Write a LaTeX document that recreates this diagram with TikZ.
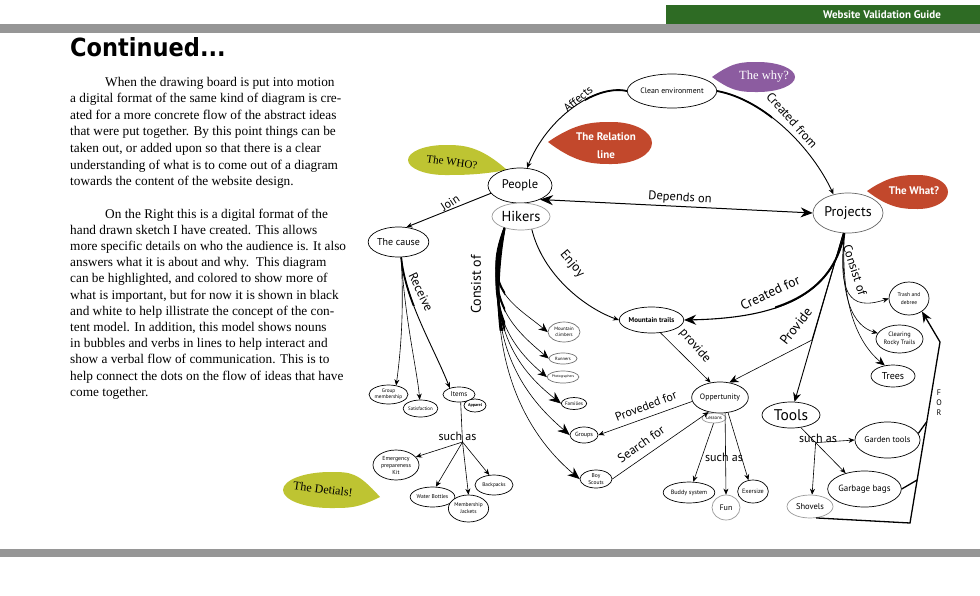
\documentclass[tikz,border=0pt]{standalone}
\usepackage{fontspec}
\setmainfont{Liberation Serif}
\newfontfamily\ptsans{PT Sans}
\newfontfamily\dvsans{DejaVu Sans}
\usetikzlibrary{arrows.meta,shapes.geometric,calc}
\definecolor{hdrgreen}{RGB}{46,107,36}
\definecolor{bargray}{RGB}{150,150,150}
\definecolor{whycol}{RGB}{140,92,160}
\definecolor{redcol}{RGB}{194,72,44}
\definecolor{olivecol}{RGB}{190,196,50}
\newcommand{\nf}[2]{\ptsans\fontsize{#1}{#2}\selectfont}
\newcommand{\tear}[7]{%
  \fill[#7] (#1,#2) .. controls ({#1+0.45*(#3-#1)},{#4-#6}) and ({#3-0.45*(#5)},{#4-#6}) .. (#3,{#4-#6})
  .. controls ({#3+0.55*(#5)},{#4-#6}) and ({#3+(#5)},{#4-0.55*#6}) .. ({#3+(#5)},#4)
  .. controls ({#3+(#5)},{#4+0.55*#6}) and ({#3+0.55*(#5)},{#4+#6}) .. (#3,{#4+#6})
  .. controls ({#3-0.45*(#5)},{#4+#6}) and ({#1+0.45*(#3-#1)},{#4+#6}) .. (#1,#2) -- cycle;}
\begin{document}
\begin{tikzpicture}[x=1pt,y=-1pt,
  ell/.style={draw, ellipse, fill=white, inner sep=0pt, line width=0.7pt, align=center},
  gell/.style={ell, draw=black!40},
  ln/.style={line width=0.9pt},
  tn/.style={line width=0.6pt},
  arr/.style={-{Stealth[length=6pt,width=5pt]}},
  marr/.style={-{Stealth[length=9pt,width=8pt]}},
  barr/.style={-{Stealth[length=12pt,width=10pt]}},
  lbl/.style={inner sep=0pt},
  body/.style={anchor=base west, inner sep=0pt, font=\fontsize{13.3}{16}\selectfont}]
\useasboundingbox (0,0) rectangle (980,595);
\fill[white] (0,0) rectangle (980,595);
% header and bars
\fill[hdrgreen] (666,5) rectangle (980,24);
\node[font=\nf{11}{12}\bfseries, text=white] (hdr) at (882,15) {Website Validation Guide};
\fill[bargray] (0,24) rectangle (980,33);
\fill[bargray] (0,549) rectangle (980,557);
% title and text
\node[anchor=base west, inner sep=0pt, font=\dvsans\bfseries\fontsize{25}{28}\selectfont, xscale=0.9] (title) at (70,56) {Continued...};
\node[body] (t1) at (105,86) {When the drawing board is put into motion};
\node[body] (t2) at (70,102.6) {a digital format of the same kind of diagram is cre-};
\node[body] (t3) at (70,119.2) {ated for a more concrete flow of the abstract ideas};
\node[body] (t4) at (70,135.8) {that were put together. By this point things can be};
\node[body] (t5) at (70,152.4) {taken out, or added upon so that there is a clear};
\node[body] (t6) at (70,169) {understanding of what is to come out of a diagram};
\node[body] (t7) at (70,185.6) {towards the content of the website design.};
\node[body] (u1) at (105,218) {On the Right this is a digital format of the};
\node[body] (u2) at (70,234.2) {hand drawn sketch I have created. This allows};
\node[body] (u3) at (70,250.4) {more specific details on who the audience is. It also};
\node[body] (u4) at (70,266.6) {answers what it is about and why.\ \ This diagram};
\node[body] (u5) at (70,282.8) {can be highlighted, and colored to show more of};
\node[body] (u6) at (70,299) {what is important, but for now it is shown in black};
\node[body] (u7) at (70,315.2) {and white to help illistrate the concept of the con-};
\node[body] (u8) at (70,331.4) {tent model. In addition, this model shows nouns};
\node[body] (u9) at (70,347.6) {in bubbles and verbs in lines to help interact and};
\node[body] (u10) at (70,363.8) {show a verbal flow of communication. This is to};
\node[body] (u11) at (70,380) {help connect the dots on the flow of ideas that have};
\node[body] (u12) at (70,396.2) {come together.};
% bubbles
\tear{712}{77}{758}{77}{37}{15}{whycol}
\node[font=\fontsize{12.5}{13}\selectfont, text=white] (twhy) at (764,77) {The why?};
\tear{548}{142}{612}{143}{40}{21}{redcol}
\node[font=\nf{11}{18}\bfseries, text=white, align=center] (trel) at (606,145.5) {The Relation\\line};
\tear{507}{170}{445}{160}{-37}{15}{olivecol}
\node[font=\fontsize{11}{12}\selectfont, rotate=-8] (twho) at (452,162) {The WHO?};
\tear{867}{191}{918}{192}{30}{17}{redcol}
\node[font=\nf{11}{12}\bfseries, text=white] (twhat) at (914,191) {The What?};
\tear{380}{497}{330}{490}{-47}{18}{olivecol}
\node[font=\fontsize{12}{13}\selectfont, rotate=-7] (tdet) at (323,489) {The Detials!};
% nodes
\node[ell, minimum width=88, minimum height=34, font=\nf{7.8}{9}] (ce) at (672,91) {Clean environment};
\node[ell, minimum width=64, minimum height=35, font=\nf{12.5}{14}] (people) at (520,185.5) {People};
\node[gell, minimum width=58, minimum height=27, font=\nf{14.5}{16}] (hikers) at (521,216.5) {Hikers};
\node[ell, draw=black!60, minimum width=70, minimum height=40, font=\nf{14}{16}] (projects) at (848,213) {Projects};
\node[ell, minimum width=57, minimum height=30, font=\nf{10}{11}] (cause) at (398.5,242) {The cause};
\node[ell, minimum width=53, minimum height=26, font=\nf{7}{8}\bfseries] (mtrails) at (651.5,320) {Mountain trails};
\node[ell, minimum width=56, minimum height=31, font=\nf{7.8}{9}] (opp) at (720,397.5) {Oppertunity};
\node[gell, minimum width=24, minimum height=10, font=\nf{4.8}{5}] (lessons) at (714,418) {Lessons};
\node[ell, minimum width=58, minimum height=26, font=\nf{15.5}{17}] (tools) at (791,415) {Tools};
\node[ell, minimum width=40, minimum height=33, font=\nf{5.5}{7.5}] (trash) at (909,298.5) {Trash and\\debree};
\node[ell, minimum width=47, minimum height=28, font=\nf{6.3}{8}] (clearing) at (899.5,339) {Clearing\\Rocky Trails};
\node[ell, minimum width=44, minimum height=22, font=\nf{10}{11}] (trees) at (893,376) {Trees};
\node[ell, minimum width=65, minimum height=36, font=\nf{8.5}{9}] (gtools) at (887.5,440) {Garden tools};
\node[ell, minimum width=63, minimum height=36, font=\nf{9}{10}] (gbags) at (864.5,489) {Garbage bags};
\node[gell, minimum width=46, minimum height=23, font=\nf{8.5}{9}] (shovels) at (810,506.5) {Shovels};
\node[ell, draw=black!55, minimum width=32, minimum height=20, font=\nf{4.8}{5.5}] (mclimb) at (564,332) {Mountain\\climbers};
\node[ell, draw=black!55, minimum width=28, minimum height=11, font=\nf{4.5}{5}] (runners) at (563,358.5) {Runners};
\node[ell, draw=black!55, minimum width=30, minimum height=12, font=\nf{3.6}{4}] (photo) at (563,377) {Photographers};
\node[ell, minimum width=25, minimum height=12, font=\nf{5}{6}] (families) at (574,403.5) {Families};
\node[ell, minimum width=28, minimum height=16, font=\nf{6}{7}] (groups) at (584,435) {Groups};
\node[ell, minimum width=32, minimum height=18, font=\nf{5.5}{6.5}] (boys) at (596,479) {Boy\\Scouts};
\node[ell, minimum width=35, minimum height=19, font=\nf{5.2}{6}] (gmem) at (388.5,394.5) {Group\\membership};
\node[ell, minimum width=33, minimum height=17, font=\nf{4.9}{6}] (satis) at (420.5,408.5) {Satisfaction};
\node[ell, minimum width=32, minimum height=15, font=\nf{7}{8}] (items) at (459,394.5) {Items};
\node[ell, minimum width=22, minimum height=13, font=\nf{4.2}{5}\bfseries] (apparel) at (475,405.5) {Apparel};
\node[ell, minimum width=46, minimum height=30, font=\nf{5.8}{7}] (emerg) at (396,465) {Emergency\\prepareness\\Kit};
\node[ell, minimum width=39, minimum height=20, font=\nf{5.5}{6}] (water) at (432.5,497) {Water Bottles};
\node[ell, minimum width=39, minimum height=27, font=\nf{5.4}{7}] (mjack) at (468.5,508.5) {Membership\\Jackets};
\node[ell, minimum width=38, minimum height=20, font=\nf{5.3}{6}] (backp) at (494,485) {Backpacks};
\node[ell, minimum width=42, minimum height=21, font=\nf{6.2}{7}] (buddy) at (689,492.5) {Buddy system};
\node[gell, minimum width=28, minimum height=25, font=\nf{8}{9}] (fun) at (726,507.5) {Fun};
\node[ell, minimum width=28, minimum height=23, font=\nf{6.2}{7}] (exer) at (753,491.5) {Exersize};
% thick starts of tapered connectors
\begin{scope}
\clip (585,70) rectangle (640,112);
\draw[line width=1.8pt] (ce.west) .. controls (595,84) and (547,118) .. (people.68);
\end{scope}
\begin{scope}
\clip (705,85) rectangle (772,122);
\draw[line width=1.8pt] (ce.east) .. controls (765,100) and (812,148) .. (projects.128);
\end{scope}
\begin{scope}
\clip (775,228) rectangle (850,320);
\draw[line width=2pt] (projects.-100) .. controls (832,295) and (780,318) .. (mtrails.east);
\end{scope}
\begin{scope}
\clip (395,255) rectangle (415,305);
\draw[line width=1.8pt] (cause.-80) .. controls (405,300) and (435,350) .. (items.145);
\end{scope}
% connectors
\draw[ln, arr] (ce.west) .. controls (595,84) and (547,118) .. (people.68);
\draw[ln, arr] (ce.east) .. controls (765,100) and (812,148) .. (projects.128);
\draw[line width=1pt, {Stealth[length=13pt,width=10pt]}-{Stealth[length=12pt,width=10pt]}] (people.-35) -- (projects.west);
\draw[ln, arr] (people.195) -- (cause.62);
\draw[tn, arr] (cause.-80) .. controls (404,310) and (401,350) .. (gmem.50);
\draw[tn, arr] (cause.-80) .. controls (405,320) and (417,370) .. (satis.95);
\draw[ln, arr] (cause.-80) .. controls (405,300) and (435,350) .. (items.145);
\def\hlist{480/290/515/305/mclimb/marr, 480/300/515/330/runners/marr, 480/310/515/350/photo/marr, 480/330/525/375/families/barr, 478/350/535/405/groups/barr, 478/380/545/450/boys/barr}
\begin{scope}
\clip (440,220) rectangle (505,330);
\foreach \ax/\ay/\bx/\by/\tg/\ah in \hlist
  \draw[line width=2pt] (hikers.215) .. controls (\ax,\ay) and (\bx,\by) .. (\tg.west);
\end{scope}
\foreach \ax/\ay/\bx/\by/\tg/\ah in \hlist
  \draw[tn, \ah] (hikers.215) .. controls (\ax,\ay) and (\bx,\by) .. (\tg.west);
\draw[ln, arr] (hikers.-50) .. controls (543,275) and (585,308) .. (mtrails.west);
\draw[line width=1.1pt, barr] (projects.-100) .. controls (832,295) and (780,318) .. (mtrails.east);
\coordinate (pv) at (812,340);
\draw[ln] (projects.-103) -- (pv);
\draw[tn, marr] (pv) -- (opp.58);
\draw[ln, marr] (projects.-103) -- (tools.75);
\draw[tn, arr] (projects.-100) .. controls (838,292) and (848,312) .. (trash.west);
\draw[tn, arr] (projects.-100) .. controls (839,298) and (853,326) .. (clearing.165);
\draw[tn, marr] (projects.-100) .. controls (840,308) and (860,345) .. (trees.128);
\draw[tn, arr] (mtrails.-55) -- (opp.122);
\draw[tn, arr] (opp.188) -- (groups.east);
\draw[tn, arr] (boys.east) -- (opp.232);
\draw[tn, arr] (lessons.-95) -- (buddy.68);
\draw[tn, arr] (opp.-72) -- (fun.north);
\draw[tn, arr] (opp.-62) -- (exer.112);
\draw[tn, arr] (tools.-52) -- (gbags.140);
\coordinate (tb) at ($(tools.-52)!0.33!(gbags.140)$);
\draw[tn, arr] (tb) -- (gtools.west);
\draw[tn, arr] (tb) -- (shovels.80);
\coordinate (f1) at (910,523);
\coordinate (f2) at (940,342);
\draw[line width=1.3pt, -{Stealth[length=11pt,width=9pt]}] (shovels.-62) -- (f1) -- (f2) -- (trash.-45);
\draw[line width=1.3pt] (gbags.east) -- ($(f1)!0.2376!(f2)$);
\draw[line width=1.3pt] (gtools.12) -- ($(f1)!0.56!(f2)$);
\coordinate (ib) at (462.5,442);
\draw[tn] (items.-78) -- (ib);
\draw[tn, arr] (ib) -- (emerg.22);
\draw[tn, arr] (ib) -- (water.72);
\draw[tn, arr] (ib) -- (mjack.north);
\draw[tn, arr] (ib) -- (backp.115);
% labels
\node[lbl, font=\nf{11.5}{12}, rotate=40] (laff) at (578,99) {Affects};
\node[lbl, font=\nf{12.5}{13}, rotate=-48] (lcf) at (792,120) {Created from};
\node[lbl, font=\nf{12.5}{13}, rotate=-3.6] (ldep) at (680,198) {Depends on};
\node[lbl, font=\nf{12}{13}, rotate=33] (ljoin) at (450,203) {Join};
\node[lbl, font=\nf{12.5}{13}, rotate=-64] (lrec) at (421,292) {Receive};
\node[lbl, font=\nf{14}{15}, rotate=90] (lcons) at (476,284.5) {Consist of};
\node[lbl, font=\nf{13}{14}, rotate=-50] (lenj) at (572,264) {Enjoy};
\node[lbl, font=\nf{13.5}{14}, rotate=25] (lcfor) at (770,292.5) {Created for};
\node[lbl, font=\nf{13.5}{14}, rotate=52] (lprov) at (796,326) {Provide};
\node[lbl, font=\nf{12.5}{13}, rotate=-72] (lcons2) at (855,270) {Consist of};
\node[lbl, font=\nf{12.5}{13}, rotate=-49] (lprov2) at (695,346) {provide};
\node[lbl, font=\nf{12}{13}, rotate=21] (lprf) at (646,406) {Proveded for};
\node[lbl, font=\nf{12.5}{13}, rotate=35] (lsf) at (641,444) {Search for};
\node[lbl, font=\nf{12}{13}] (lsa1) at (724,457.5) {such as};
\node[lbl, font=\nf{12}{13}] (lsa2) at (818,438) {such as};
\node[lbl, font=\nf{12}{13}] (lsa3) at (457.5,436) {such as};
\node[lbl, font=\nf{8}{10}, align=center] (lfor) at (939,403) {F\\O\\R};
\end{tikzpicture}
\end{document}
